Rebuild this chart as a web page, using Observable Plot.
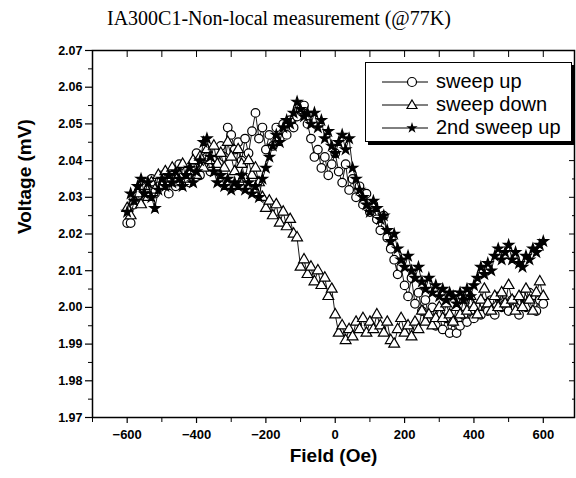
<!DOCTYPE html>
<html>
<head>
<meta charset="utf-8">
<script src="https://cdn.jsdelivr.net/npm/d3@7"></script>
<script src="https://cdn.jsdelivr.net/npm/@observablehq/plot@0.6"></script>
<style>
  html, body { margin: 0; padding: 0; background: #fff; }
  #wrap { position: relative; width: 576px; height: 478px; overflow: hidden; }
  #title { height: 40px; position: relative; }
  #title span { position: absolute; left: 107px; top: 7px; font-family: "Liberation Serif", "Times New Roman", serif; font-size: 20px; color: #000; white-space: nowrap; }
  #legend { position: absolute; left: 365px; top: 62px; width: 205px; height: 78px; border: 1.5px solid #000; background: #fff; box-shadow: 3px 3px 0 #000; font-family: "Liberation Sans", Arial, sans-serif; font-size: 20px; }
  .row { position: absolute; left: 0; height: 22px; width: 205px; }
  .row svg { position: absolute; left: 14px; top: 0; }
  .row span { position: absolute; left: 70px; top: -2px; white-space: nowrap; line-height: 24px; }
</style>
</head>
<body>
<div id="wrap">
  <div id="title"><span>IA300C1-Non-local measurement (@77K)</span></div>
  <div id="chart"></div>
  <div id="legend"></div>
</div>
<script>
const fields = [-600,-590,-580,-570,-560,-550,-540,-530,-520,-510,-500,-490,-480,-470,-460,-450,-440,-430,-420,-410,-400,-390,-380,-370,-360,-350,-340,-330,-320,-310,-300,-290,-280,-270,-260,-250,-240,-230,-220,-210,-200,-190,-180,-170,-160,-150,-140,-130,-120,-110,-100,-90,-80,-70,-60,-50,-40,-30,-20,-10,0,10,20,30,40,50,60,70,80,90,100,110,120,130,140,150,160,170,180,190,200,210,220,230,240,250,260,270,280,290,300,310,320,330,340,350,360,370,380,390,400,410,420,430,440,450,460,470,480,490,500,510,520,530,540,550,560,570,580,590,600];

const sweepUp = [2.023,2.023,2.028,2.031,2.030,2.034,2.032,2.035,2.031,2.033,2.036,2.034,2.031,2.036,2.033,2.039,2.035,2.037,2.034,2.038,2.042,2.036,2.039,2.041,2.037,2.040,2.038,2.044,2.041,2.049,2.047,2.043,2.045,2.040,2.046,2.042,2.048,2.053,2.046,2.049,2.043,2.047,2.044,2.049,2.046,2.050,2.047,2.051,2.049,2.052,2.054,2.055,2.050,2.046,2.041,2.043,2.038,2.041,2.036,2.039,2.042,2.037,2.034,2.039,2.032,2.035,2.030,2.033,2.028,2.031,2.026,2.028,2.024,2.021,2.025,2.019,2.016,2.013,2.009,2.011,2.006,2.003,2.008,2.001,2.004,1.999,2.002,1.997,2.000,1.995,1.998,1.994,1.997,1.993,1.996,1.993,1.995,1.998,1.996,1.999,1.997,2.000,1.998,2.001,1.999,2.002,1.998,2.003,2.000,2.001,1.999,2.002,2.000,1.998,2.003,2.000,2.004,2.001,1.999,2.002,2.001];

const sweepDown = [2.027,2.025,2.029,2.031,2.028,2.033,2.030,2.034,2.032,2.036,2.033,2.037,2.035,2.038,2.034,2.036,2.039,2.035,2.037,2.040,2.036,2.041,2.038,2.043,2.040,2.044,2.039,2.042,2.038,2.045,2.041,2.037,2.043,2.039,2.035,2.040,2.036,2.038,2.034,2.030,2.027,2.029,2.025,2.028,2.023,2.026,2.022,2.024,2.020,2.019,2.011,2.013,2.009,2.011,2.007,2.010,2.006,2.008,2.003,2.005,1.998,1.993,1.995,1.991,1.994,1.992,1.996,1.994,1.997,1.993,1.996,1.994,1.998,1.995,1.993,1.996,1.991,1.990,1.994,1.997,1.993,1.995,1.992,1.996,1.994,1.999,1.996,1.998,1.995,1.997,2.000,1.997,2.001,1.998,1.996,2.000,1.998,2.002,1.999,2.003,2.000,1.998,2.002,2.005,2.001,1.999,2.003,2.000,2.004,2.001,2.006,2.002,1.999,2.003,2.000,2.005,2.002,1.999,2.004,2.007,2.003];

const sweepUp2 = [2.026,2.031,2.029,2.033,2.035,2.031,2.034,2.030,2.027,2.032,2.035,2.033,2.036,2.034,2.037,2.035,2.033,2.036,2.038,2.034,2.037,2.040,2.045,2.046,2.041,2.037,2.034,2.036,2.033,2.035,2.032,2.034,2.033,2.036,2.032,2.034,2.031,2.033,2.030,2.035,2.038,2.041,2.044,2.047,2.045,2.049,2.051,2.050,2.053,2.056,2.054,2.052,2.053,2.050,2.053,2.049,2.051,2.046,2.048,2.044,2.042,2.045,2.047,2.043,2.046,2.038,2.035,2.032,2.030,2.028,2.026,2.029,2.027,2.024,2.025,2.021,2.018,2.020,2.016,2.013,2.011,2.014,2.010,2.008,2.011,2.007,2.005,2.008,2.004,2.006,2.003,2.005,2.002,2.004,2.003,2.001,2.004,2.002,2.005,2.003,2.006,2.008,2.011,2.009,2.012,2.010,2.014,2.016,2.013,2.015,2.017,2.013,2.015,2.012,2.011,2.014,2.013,2.016,2.015,2.017,2.018];

const yTicks = [1.97,1.98,1.99,2.00,2.01,2.02,2.03,2.04,2.05,2.06,2.07];
const yMinor = [1.975,1.985,1.995,2.005,2.015,2.025,2.035,2.045,2.055,2.065];
const xTicks = [-600,-400,-200,0,200,400,600];
const xMinor = [-700,-500,-300,-100,100,300,500];
const seriesNames = ["sweep up", "sweep down", "2nd sweep up"];
const seriesSymbols = ["circle", "triangle", "star"];
const seriesR = [4.3, 4, 3.2];

const toRows = vals => fields.map((f, i) => ({field: f, v: vals[i]}));
const seriesData = [toRows(sweepUp), toRows(sweepDown), toRows(sweepUp2)];

const font = "'Liberation Sans', Arial, sans-serif";
const seriesMarks = seriesData.flatMap((d, i) => [
  Plot.line(d, {x: "field", y: "v", stroke: "#000", strokeWidth: 0.9}),
  Plot.dot(d, {x: "field", y: "v", symbol: () => seriesSymbols[i], r: seriesR[i],
    fill: seriesSymbols[i] === "star" ? "#000" : "#fff", stroke: "#000", strokeWidth: 1.2})
]);

const chart = Plot.plot({
  width: 576,
  height: 438,
  marginLeft: 92,
  marginRight: 2,
  marginTop: 10,
  marginBottom: 61,
  style: {fontFamily: font, color: "#000", background: "#fff"},
  x: {domain: [-700, 690]},
  y: {domain: [1.97, 2.07]},
  symbol: {type: "identity"},
  marks: [
    ...seriesMarks,
    Plot.axisY({ticks: yTicks, tickSize: 7, tickPadding: 3, tickFormat: d => d.toFixed(2), label: null, fontSize: 12.5, fontWeight: "bold", strokeWidth: 1.2}),
    Plot.axisY({ticks: yMinor, tickSize: 4, tickFormat: () => "", label: null}),
    Plot.axisY({anchor: "right", ticks: yTicks, tickSize: 6, dx: -6, tickFormat: () => "", label: null}),
    Plot.axisY({anchor: "right", ticks: yMinor, tickSize: 3, dx: -3, tickFormat: () => "", label: null}),
    Plot.axisX({ticks: xTicks, tickSize: 6, tickPadding: 6, label: null, fontSize: 13, fontWeight: "bold", strokeWidth: 1.2}),
    Plot.axisX({ticks: xMinor, tickSize: 5, tickFormat: () => "", label: null}),
    Plot.axisX({anchor: "top", ticks: xTicks.concat(xMinor), tickSize: 6, dy: 6, tickFormat: () => "", label: null}),
    Plot.frame({stroke: "#000", strokeWidth: 1.5}),
    Plot.text(["Field (Oe)"], {frameAnchor: "bottom", dy: 44, fontSize: 19, fontWeight: "bold"}),
    Plot.text(["Voltage (mV)"], {frameAnchor: "left", dx: -68, rotate: -90, fontSize: 19, fontWeight: "bold"})
  ]
});
document.getElementById("chart").appendChild(chart);

// legend
const legend = document.getElementById("legend");
const symPaths = {
  circle: '<circle cx="32" cy="11" r="4.5" fill="#fff" stroke="#000" stroke-width="1.2"/>',
  triangle: '<path d="M32,6 L37,14.5 L27,14.5 Z" fill="#fff" stroke="#000" stroke-width="1.2"/>',
  star: '<path d="' + d3.symbol(d3.symbolStar, 40)() + '" transform="translate(32,11)" fill="#000"/>'
};
seriesNames.forEach((name, i) => {
  const row = document.createElement("div");
  row.className = "row";
  row.style.top = (8 + i * 23) + "px";
  row.innerHTML = '<svg width="50" height="22"><line x1="2" x2="48" y1="11" y2="11" stroke="#000" stroke-width="1"/>' +
    symPaths[seriesSymbols[i]] + '</svg><span>' + name + '</span>';
  legend.appendChild(row);
});
</script>
</body>
</html>
